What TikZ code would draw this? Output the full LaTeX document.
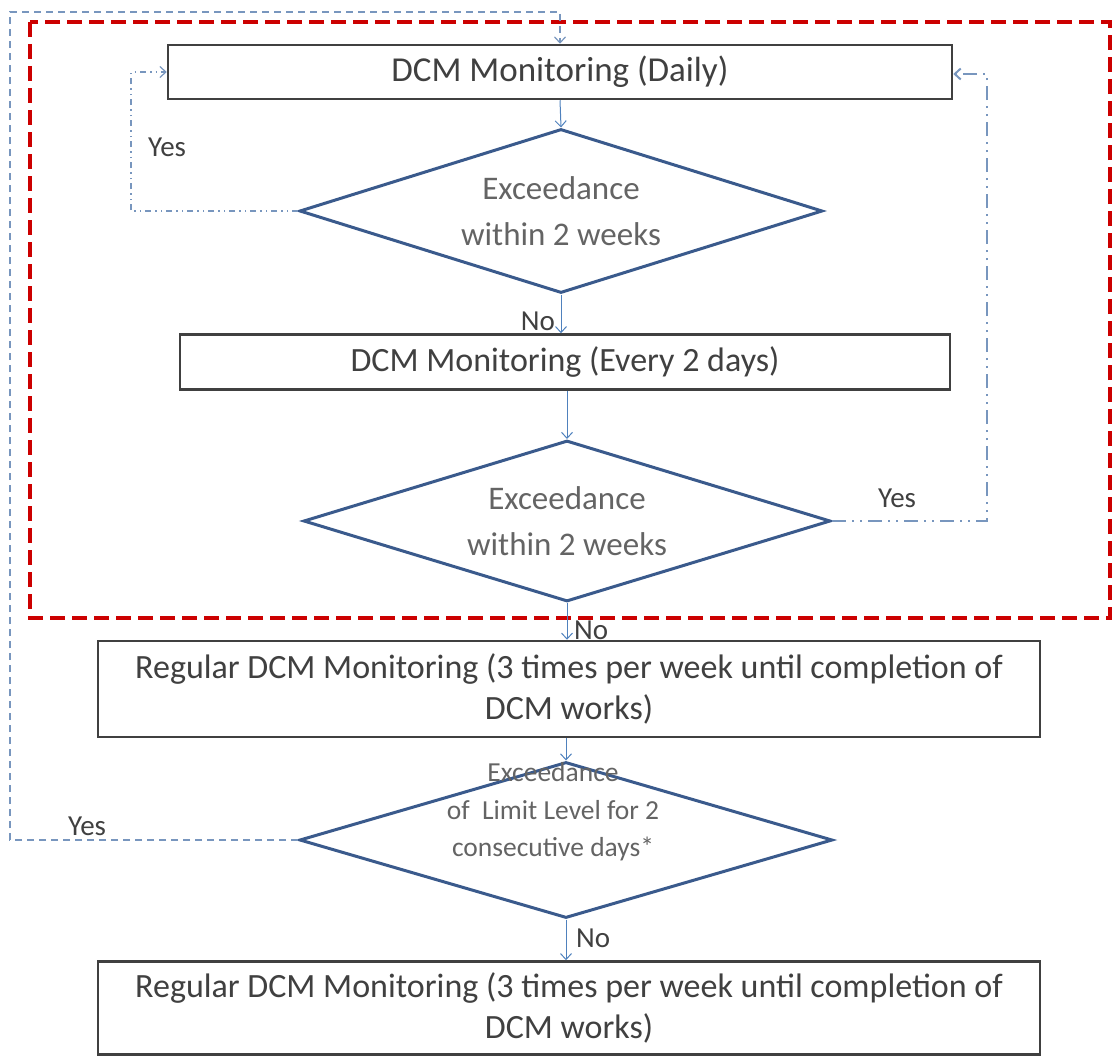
\documentclass[tikz,border=0pt]{standalone}
\usepackage{fontspec}
\setmainfont{Carlito}
\usepackage{xcolor}
\definecolor{boxline}{RGB}{64, 64, 64}
\definecolor{boxtext}{RGB}{64, 64, 64}
\definecolor{diatext}{RGB}{100, 100, 100}
\definecolor{dialine}{RGB}{58, 90, 140}
\definecolor{flowcol}{RGB}{79, 129, 189}
\definecolor{loopcol}{RGB}{120, 150, 190}
\definecolor{zonecol}{RGB}{204, 0, 0}
\usepackage{tikz}
\usetikzlibrary{shapes.geometric, arrows.meta}

\begin{document}
\begin{tikzpicture}[x=1pt, y=-1pt,
  dcmbox/.style={draw=boxline, line width=2.5pt, fill=white, inner sep=0pt,
        align=center, text=boxtext, font=\fontsize{34}{41}\selectfont},
  dcmdiamond/.style={diamond, aspect=3.2, draw=dialine, line width=3pt,
        inner sep=0pt},
  diatextstyle/.style={align=center, text=diatext, inner sep=0pt},
  yesno/.style={text=boxtext, font=\fontsize{29}{32}\selectfont, inner sep=0pt},
  flow/.style={draw=flowcol, line width=1pt, -{Straight Barb[length=6pt, width=11pt]}}]
  \useasboundingbox (0,0) rectangle (1113,1057);

  % zone of daily monitoring
  \draw[zonecol, line width=4.5pt, dash pattern=on 15pt off 7pt] (30,22) rectangle (1110,618);

  \node[dcmbox, minimum width=784pt, minimum height=54pt, font=\fontsize{35}{41}\selectfont]
        (box1) at (560,72) {DCM Monitoring (Daily)};
  \node[dcmdiamond, minimum width=523pt, minimum height=164pt] (d1) at (561,211) {};
  \node[diatextstyle, font=\fontsize{33}{46}\selectfont] (d1text) at (d1) {Exceedance\\within 2 weeks};
  \node[dcmbox, minimum width=770pt, minimum height=55pt] (box2) at (565,362) {DCM Monitoring (Every 2 days)};
  \node[dcmdiamond, minimum width=527pt, minimum height=161pt] (d2) at (567,521) {};
  \node[diatextstyle, font=\fontsize{33}{46}\selectfont] (d2text) at (d2) {Exceedance\\within 2 weeks};
  \node[dcmbox, minimum width=942pt, minimum height=96pt] (box3) at (569,689)
        {Regular DCM Monitoring (3 times per week until completion of\\DCM works)};
  \node[dcmdiamond, minimum width=533pt, minimum height=156pt] (d3) at (566,840) {};
  \node[diatextstyle, font=\fontsize{27.5}{37.5}\selectfont] (d3text) at (553,812)
        {Exceedance\\of~ Limit Level for 2\\consecutive days*};
  \node[dcmbox, minimum width=942pt, minimum height=93pt] (box4) at (569,1008)
        {Regular DCM Monitoring (3 times per week until completion of\\DCM works)};

  % labels
  \node[yesno, anchor=west] (yes1) at (148,147) {Yes};
  \node[yesno, anchor=east] (no1) at (555,321) {No};
  \node[yesno, anchor=west] (yes2) at (878,498) {Yes};
  \node[yesno, anchor=west] (no2) at (574,630) {No};
  \node[yesno, anchor=west] (yes3) at (68,826) {Yes};
  \node[yesno, anchor=west] (no3) at (576,938) {No};

  % main flow
  \draw[flow] (box1.south) -- (d1.north);
  \draw[flow] (d1.south) -- (d1.south |- box2.north);
  \draw[flow] (d2.north |- box2.south) -- (d2.north);
  \draw[flow] (d2.south) -- (d2.south |- box3.north);
  \draw[flow] (d3.north |- box3.south) -- (d3.north);
  \draw[flow] (d3.south) -- (d3.south |- box4.north);

  % loops back
  \draw[flow, draw=loopcol, line width=1.2pt,
        dash pattern=on 6pt off 4pt on 1.5pt off 4pt on 1.5pt off 4pt]
        (d1.west) -- ++(-167,0) |- (box1.west);
  \draw[flow, draw=loopcol, line width=2pt,
        dash pattern=on 14pt off 6pt on 2pt off 6pt on 2pt off 6pt]
        (d2.east) -- (987,521) |- ([yshift=-2pt]box1.east);
  \coordinate (topcorner) at (10,12);
  \draw[flow, draw=loopcol, line width=1.2pt, dash pattern=on 7pt off 5pt]
        (d3.west) -| (topcorner) -| (box1.north);
\end{tikzpicture}
\end{document}
